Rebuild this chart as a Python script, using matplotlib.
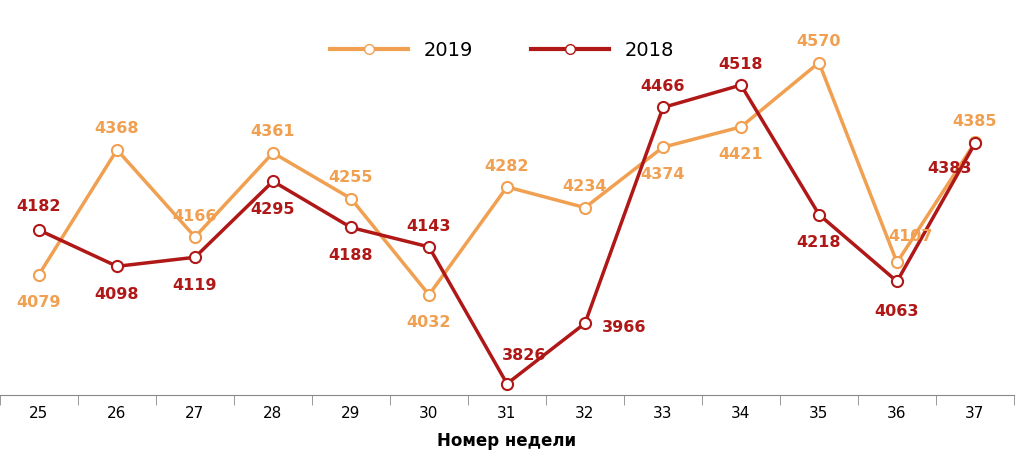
import matplotlib.pyplot as plt
from matplotlib.lines import Line2D

weeks = ["25", "26", "27", "28", "29", "30", "31", "32", "33", "34", "35", "36", "37"]
y2019 = [4079, 4368, 4166, 4361, 4255, 4032, 4282, 4234, 4374, 4421, 4570, 4107, 4385]
y2018 = [4182, 4098, 4119, 4295, 4188, 4143, 3826, 3966, 4466, 4518, 4218, 4063, 4383]

# label placement: (dx points, dy points)
off2019 = [(0, -20), (0, 15), (0, 15), (0, 15), (0, 15), (0, -20), (0, 15), (0, 15),
           (0, -20), (0, -20), (0, 15), (10, 19), (0, 15)]
off2018 = [(0, 17), (0, -20), (0, -20), (0, -20), (0, -20), (0, 15), (12, 20), (28, -3),
           (0, 15), (0, 15), (0, -20), (0, -22), (-18, -18)]

c19 = "#F0A050"
c18 = "#B01818"

fig = plt.figure(figsize=(10.24, 4.73), dpi=100)
ax = fig.add_axes([0, 0.165, 1014 / 1024, 0.835])
x = list(range(len(weeks)))

ax.plot(x, y2019, color=c19, lw=2.5, marker="o", ms=8, mfc="white", mec=c19, mew=1.5, zorder=3)
ax.plot(x, y2018, color=c18, lw=2.5, marker="o", ms=8, mfc="white", mec=c18, mew=1.5, zorder=3)

for xi, v, o in zip(x, y2019, off2019):
    ax.annotate(str(v), (xi, v), xytext=o, textcoords="offset points", ha="center", va="center",
                color=c19, fontsize=11.5, fontweight="bold")
for xi, v, o in zip(x, y2018, off2018):
    ax.annotate(str(v), (xi, v), xytext=o, textcoords="offset points", ha="center", va="center",
                color=c18, fontsize=11.5, fontweight="bold")

ax.set_xlim(-0.5, len(weeks) - 0.5)
ax.set_ylim(3800, 4715)
ax.set_xticks(x)
ax.set_xticklabels(weeks, fontsize=11)
ax.set_xticks([i + 0.5 for i in range(-1, len(weeks))], minor=True)
ax.tick_params(axis="x", which="major", length=0, pad=8)
ax.tick_params(axis="x", which="minor", length=7, color="#888888")
ax.set_yticks([])
for s in ["left", "right", "top"]:
    ax.spines[s].set_visible(False)
ax.spines["bottom"].set_color("#888888")
ax.set_xlabel("Номер недели", fontsize=12, fontweight="bold", labelpad=8)

handles = [
    Line2D([0, 1, 2], [0, 0, 0], color=c19, lw=3, marker="o", ms=7, mfc="white", mec=c19, markevery=[1]),
    Line2D([0, 1, 2], [0, 0, 0], color=c18, lw=3, marker="o", ms=7, mfc="white", mec=c18, markevery=[1]),
]
fig.legend(handles, ["2019", "2018"], loc="upper center", bbox_to_anchor=(0.49, 0.95),
           ncol=2, frameon=False, fontsize=14, handlelength=4, columnspacing=3)

fig.savefig("out.png")
